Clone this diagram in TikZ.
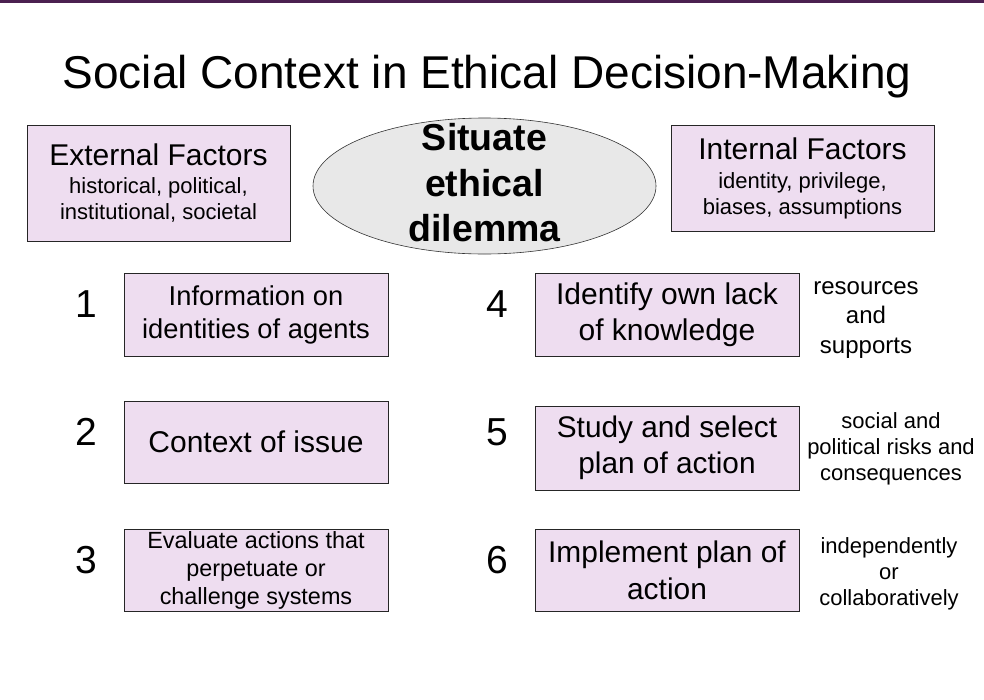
\documentclass[tikz,border=0pt]{standalone}
\usepackage{fontspec}
\setmainfont{Liberation Sans}
\usepackage{tikz}
\usetikzlibrary{positioning,shapes.geometric}
\definecolor{boxfill}{RGB}{238,221,240}
\definecolor{ovalfill}{RGB}{232,232,232}
\definecolor{topbar}{RGB}{75,32,80}

\begin{document}
\begin{tikzpicture}[
  x=1pt, y=-1pt,
  box/.style={draw=black!85,line width=0.8pt,fill=boxfill,align=center,inner sep=2pt,minimum width=264pt},
  factor/.style={box,minimum width=263pt,font=\fontsize{22}{26}\selectfont},
  num/.style={font=\fontsize{39}{39}\selectfont},
  side/.style={align=center,font=\fontsize{22}{26}\selectfont}
]
\useasboundingbox (0,0) rectangle (984,699);
\fill[white] (0,0) rectangle (984,699);
\fill[topbar] (0,0) rectangle (984,2.5);
% title
\node (title) at (487,77) {\fontsize{46}{46}\selectfont Social Context in Ethical Decision-Making};
% top row: factors and dilemma
\node[factor,minimum height=116pt] (ext) at (158.5,183)
  {\fontsize{30}{31}\selectfont External Factors\\[2pt]
   historical, political,\\institutional, societal};
\node[ellipse,draw=black!80,line width=0.6pt,fill=ovalfill,minimum width=343pt,minimum height=136pt,
  inner sep=0pt] (dil) at (484.5,186) {};
\node[align=center,font=\fontsize{37.5}{45.5}\selectfont\bfseries] (diltext) at ([yshift=3pt]dil.center)
  {Situate\\ethical\\dilemma};
\node[factor,minimum height=106pt] (int) at (802.5,178)
  {\fontsize{30}{31}\selectfont Internal Factors\\[3pt]
   identity, privilege,\\biases, assumptions};
% left column of steps
\node[box,minimum height=83pt,font=\fontsize{27.3}{33}\selectfont] (s1) at (256,314.5)
  {Information on\\identities of agents};
\node[box,minimum height=82pt,font=\fontsize{30}{33}\selectfont] (s2) at (256,442)
  {Context of issue};
\node[box,minimum height=82pt,font=\fontsize{23.4}{28}\selectfont] (s3) at (256,570)
  {Evaluate actions that\\perpetuate or\\challenge systems};
% right column of steps
\node[box,minimum height=83pt,font=\fontsize{30}{36}\selectfont] (s4) at (667,314.5)
  {Identify own lack\\of knowledge};
\node[box,minimum height=84pt,font=\fontsize{29.8}{36}\selectfont] (s5) at (667,448)
  {Study and select\\plan of action};
\node[box,minimum height=82pt,font=\fontsize{29.9}{37}\selectfont] (s6) at (667,570)
  {Implement plan of\\action};
% step numbers
\node[num,left=23pt of s1,yshift=10pt] (n1) {1};
\node[num,left=23pt of s2,yshift=10pt] (n2) {2};
\node[num,left=23pt of s3,yshift=10pt] (n3) {3};
\node[num,left=23pt of s4,yshift=10pt] (n4) {4};
\node[num,left=23pt of s5,yshift=16pt] (n5) {5};
\node[num,left=23pt of s6,yshift=10pt] (n6) {6};
% notes beside the right column
\node[side,font=\fontsize{24}{29.5}\selectfont] (r4) at (866,320) {resources\\and\\supports};
\node[side] (r5) at (891,449) {social and\\political risks and\\consequences};
\node[side] (r6) at (889,574) {independently\\or\\collaboratively};
\end{tikzpicture}
\end{document}
